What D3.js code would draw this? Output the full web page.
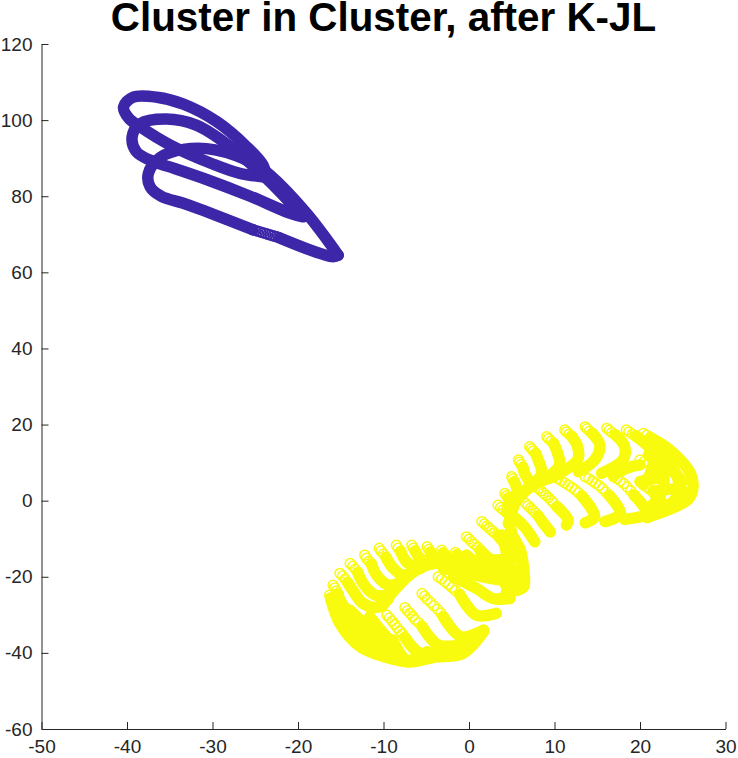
<!DOCTYPE html>
<html><head><meta charset="utf-8">
<script src="https://cdn.jsdelivr.net/npm/d3@7/dist/d3.min.js"></script>
<style>html,body{margin:0;padding:0;background:#fff}svg{display:block}</style>
</head><body><svg id="c" width="738" height="758"></svg>
<script>
const titleText = "Cluster in Cluster, after K-JL";
const xTicks = [-50,-40,-30,-20,-10,0,10,20,30];
const yTicks = [-60,-40,-20,0,20,40,60,80,100,120];

const blueLoops = [
 [[-23.7,85],[-26.8,86],[-29.9,88.4],[-35,93.5],[-38.5,98.3],[-39.8,100.5],[-40.4,103.5],[-39.3,106],[-36.5,106],[-33.4,104.2],[-29.5,99.6],[-26,93],[-24.1,88.2],[-23.7,85]],
 [[-19.4,74.6],[-21,75.6],[-25.6,80],[-30.7,84.4],[-35,87.7],[-36.9,89.1],[-38.9,91.7],[-39.4,95.6],[-38.5,99],[-35.4,100.3],[-31.9,98.7],[-28.2,93.5],[-23.7,84.7],[-19.4,74.6]],
 [[-15.3,64.5],[-19,75.5],[-23.3,85.6],[-25.1,88.5],[-29.7,92.2],[-33.4,92.3],[-36.1,90.2],[-37.5,86],[-37.3,82.5],[-36,80],[-33.5,78.2],[-31.5,76.6],[-25.3,71.2]],
 [[-22.1,69],[-15.9,64.1],[-15.3,64.5]]
];
const blueRings = [[-25.3,71.2],[-25,71],[-24.7,70.8],[-24.4,70.6],[-24.1,70.4],[-23.8,70.2],[-23.5,70],[-23.2,69.8],[-22.9,69.6],[-22.6,69.4],[-22.3,69.2]];

const yellowRings = [
 [[5,6.3],[5.1,5.7],[5.3,5]],
 [[5.8,10.7],[5.9,10.1],[6.1,9.5],[6.3,8.8]],
 [[7.1,14.2],[7.3,13.7],[7.5,13.1],[7.8,12.4]],
 [[9.1,16.8],[9.3,16.3],[9.6,15.7],[9.9,15]],
 [[11.2,18.6],[11.4,18.1],[11.7,17.5],[12,16.9]],
 [[13.6,19.4],[13.8,18.9],[14.1,18.3],[14.4,17.7]],
 [[16.1,19],[16.4,18.5],[16.7,17.9],[17.1,17.3]],
 [[18.4,18.6],[18.7,18.1],[19.1,17.5],[19.5,17]],
 [[20.4,17.7],[20.8,17.2],[21.2,16.6]],
 [[20,10.7],[20.5,10.3],[21,9.9],[21.5,9.5]],
 [[1.5,-5.5],[1.8,-6.1],[2.1,-6.7],[2.4,-7.3],[2.7,-7.9],[3,-8.5],[3.4,-9.2]],
 [[3.4,-1.2],[3.7,-1.8],[4,-2.4],[4.4,-3.1]],
 [[4.2,1.9],[4.4,1.3],[4.6,0.7]],
 [[6.6,-0.7],[6.9,-1.3],[7.2,-1.9],[7.5,-2.6],[7.8,-3.3],[8.1,-4]],
 [[8.1,3.2],[8.4,2.6],[8.7,2],[9,1.4],[9.3,0.8],[9.6,0.1],[9.9,-0.6],[10.3,-1.6]],
 [[10.4,5.8],[10.8,5.2],[11.2,4.7],[11.6,4.1],[12,3.5],[12.4,2.9],[12.8,2.1],[13.2,1.2]],
 [[13.6,6.3],[14,5.8],[14.4,5.2],[14.8,4.6],[15.2,4],[15.6,3.2],[16,2.3],[16.4,1.4]],
 [[16.9,6.3],[17.3,5.8],[17.7,5.2],[18.1,4.5],[18.5,3.6],[18.9,2.6],[19.3,1.5]],
 [[20.4,4.1],[20.8,3.5],[21.2,2.9],[21.6,2.1]],
 [[-0.3,-9.5],[0,-10.1],[0.3,-10.8],[0.6,-11.4],[1,-12.2],[1.3,-13]],
 [[-3.6,-20],[-3.2,-20.6],[-2.8,-21.3],[-2.4,-22],[-2,-22.8],[-1.6,-23.6],[-1.1,-24.6]],
 [[-5.5,-24.4],[-5.2,-25.1],[-4.9,-25.9],[-4.5,-26.7],[-4.1,-27.6],[-3.7,-28.5],[-3.3,-29.5],[-3,-30.5]],
 [[-7.5,-28.1],[-7.2,-28.9],[-6.9,-29.6],[-6.6,-30.4],[-6.3,-31.2],[-5.9,-32.1],[-5.5,-33]],
 [[-9.6,-30.1],[-9.3,-30.8],[-9,-31.6],[-8.7,-32.5],[-8.4,-33.4],[-8.1,-34.2],[-7.8,-35],[-7.5,-35.9]],
 [[-15.9,-22.2],[-15.7,-22.9],[-15.5,-23.7],[-15.3,-24.6]],
 [[-15.1,-19.1],[-14.8,-19.8],[-14.5,-20.6],[-14.2,-21.5]],
 [[-13.9,-16.5],[-13.6,-17.2],[-13.3,-18],[-13,-18.9]],
 [[-12.2,-14.3],[-12,-15.1],[-11.7,-15.9],[-11.4,-16.7]],
 [[-10.5,-12.5],[-10.3,-13.2],[-10,-14],[-9.7,-14.9]],
 [[-8.5,-11.7],[-8.3,-12.5],[-8,-13.3]],
 [[-6.7,-11.7],[-6.5,-12.5],[-6.3,-13.2]],
 [[-4.9,-12.1],[-4.7,-12.8],[-4.5,-13.5]],
 [[-3.2,-13],[-3,-13.7]],
 [[-1.6,-13.6],[-1.4,-14.2]],
 [[-16.3,-24.8],[-16.2,-25.6]]
];

const yellowLines = [
 [[5.3,5],[5.6,2.8],[5.2,-1.6],[4.6,-6]],
 [[6.3,8.8],[6.5,7.2],[7.1,4.1],[6,1.9]],
 [[7.8,12.4],[8.1,10.7],[8.5,7.2],[7.3,4.1]],
 [[9.9,15],[10.3,12.9],[10.6,9.4],[9.3,6.3],[7.3,4.1]],
 [[12,16.9],[12.7,14.2],[12.7,10.7],[10.6,7.2],[9.3,5.8]],
 [[14.4,17.7],[15.3,14.6],[14.7,10.7],[12.8,7.6]],
 [[17.1,17.3],[18.2,14.2],[18,10.7],[15.5,7.2]],
 [[19.5,17],[21,14.2],[22,10.7],[20.4,4.5]],
 [[21.2,16.6],[23.5,13.3],[25.9,7.2],[26.2,3.7],[25.7,0.5],[23.1,-2.6],[20.8,-4.4]],
 [[21.5,15.5],[23.5,10],[24.5,5],[24,0],[22,-2]],
 [[21,12],[22.7,7],[22.5,2],[21.5,-1]],
 [[21.3,8],[23.5,8],[25,5]],
 [[21.5,2.5],[24,3],[25.5,2]],
 [[16.9,6.7],[18.4,8.5],[20,9.4]],
 [[20,5],[22.7,6.3]],
 [[3.4,-9.2],[4,-10.8],[4.8,-13]],
 [[4.4,-3.1],[5.2,-4.2],[6.5,-6.9],[7.7,-10.8]],
 [[8.1,-4],[8.6,-5.6],[9.5,-8.2]],
 [[10.3,-1.6],[11.6,-5.1],[11.4,-6.4]],
 [[13.2,1.2],[14.7,-4.2],[13.6,-5.8]],
 [[16.4,1.4],[17.7,-3.4],[15.9,-5.5]],
 [[19.3,1.5],[20.8,-3.4],[18.2,-4.9]],
 [[21.6,2.1],[22.7,-1.6],[20.8,-4.4]],
 [[4.6,0.7],[4.8,-2.5],[4.8,-5.1],[5,-8.6],[6,-13],[6.4,-18.2],[6.4,-22.6],[5.6,-23.6]],
 [[3.9,-9],[4.4,-14],[4.6,-19],[4.4,-24]],
 [[4.8,-2.5],[6.7,2.8],[9.1,5.8],[10.5,7.2]],
 [[1.3,-13],[3.2,-17.4],[4.2,-21.7],[4.8,-24.8],[3.6,-25.7]],
 [[-1.8,-20],[0.9,-23.1],[2.8,-25.7],[4.8,-25.7]],
 [[-1.1,-24.6],[0.9,-30.1],[3.2,-29.6]],
 [[-3,-30.5],[-0.9,-35.8],[1.7,-34]],
 [[-5.5,-33],[-3.6,-37.9],[-0.7,-37.9]],
 [[-7.5,-35.9],[-5.7,-40.1],[-2.6,-38.8]],
 [[-8.9,-36.6],[-7.3,-41.9],[-4.9,-39.7]],
 [[-10.2,-27.9],[-8.9,-23.9],[-6.5,-18.7],[-4.2,-16.5],[0,-17.4],[3.6,-18.2],[6.4,-18.2]],
 [[-5,-16],[-1,-15.8],[3,-15.6],[6,-15.2]],
 [[-3,-17.8],[0,-19.2],[3,-20.6],[5.5,-21]],
 [[-15.3,-24.6],[-15.1,-26.1],[-13.5,-30.5],[-11.6,-32.3]],
 [[-14.2,-21.5],[-13.5,-23.9],[-12.4,-27],[-10.8,-28],[-9.4,-25.7]],
 [[-13,-18.9],[-12.4,-21.7],[-11,-24.8],[-9.4,-24.8]],
 [[-11.4,-16.7],[-10.8,-19.6],[-9.4,-22.2],[-8.3,-21.7]],
 [[-9.7,-14.9],[-9,-17.4],[-7.7,-19.6],[-6.3,-18.2]],
 [[-8,-13.3],[-7.3,-16.1],[-5.7,-17.8]],
 [[-6.3,-13.2],[-5.7,-15.2],[-4.2,-16.5]],
 [[-4.5,-13.5],[-4,-15.6],[-2.2,-16.5]],
 [[-3,-13.7],[-2.2,-16],[-1,-16.5]],
 [[-1.4,-14.2],[-0.9,-16.5]],
 [[-0.3,-14.3],[0.9,-16.5]],
 [[-16.2,-25.6],[-15.1,-32.3],[-12.7,-38.4],[-9.6,-41.2],[-6.9,-42.4],[-4.2,-41.2],[-0.7,-40.1],[1.7,-34.4]],
 [[-15.5,-25.2],[-13.9,-32.3],[-11.6,-36.6],[-8.9,-40.1]],
 [[-13.9,-28.8],[-12,-33.1],[-10,-38.4]],
 [[-11.6,-30.5],[-10,-34.9],[-8.5,-38.8]]
];

const svg = d3.select("#c");
const x = d3.scaleLinear().domain([-50,30]).range([41.5,725.5]);
const y = d3.scaleLinear().domain([-60,120]).range([729,44]);
const ink = "#262626", blue = "#3e26a8", yellow = "#f9fb0e";
const line = d3.line().x(d=>x(d[0])).y(d=>y(d[1])).curve(d3.curveCatmullRom.alpha(0.5));

svg.append("g").selectAll("path").data(blueLoops).join("path")
  .attr("d",line).attr("fill","none").attr("stroke",blue).attr("stroke-width",11.5)
  .attr("stroke-linecap","round").attr("stroke-linejoin","round");
svg.append("g").selectAll("circle").data(blueRings).join("circle")
  .attr("cx",d=>x(d[0])).attr("cy",d=>y(d[1])).attr("r",4.9)
  .attr("fill","none").attr("stroke",blue).attr("stroke-width",1.8);

svg.append("g").selectAll("path").data(yellowLines).join("path")
  .attr("d",line).attr("fill","none").attr("stroke",yellow).attr("stroke-width",11.5)
  .attr("stroke-linecap","round").attr("stroke-linejoin","round");

svg.append("g").selectAll("circle").data(yellowRings.flat()).join("circle")
  .attr("cx",d=>x(d[0])).attr("cy",d=>y(d[1])).attr("r",4.9)
  .attr("fill","none").attr("stroke",yellow).attr("stroke-width",1.5);

const gx = svg.append("g").attr("transform",`translate(0,${y(-60)})`)
  .call(d3.axisBottom(x).tickValues(xTicks).tickFormat(d=>String(d)).tickSizeInner(-7).tickSizeOuter(0).tickPadding(11));
const gy = svg.append("g").attr("transform",`translate(${x(-50)},0)`)
  .call(d3.axisLeft(y).tickValues(yTicks).tickFormat(d=>String(d)).tickSizeInner(-7).tickSizeOuter(0).tickPadding(9));
[gx,gy].forEach(g=>{
  g.selectAll("path,line").attr("stroke",ink).attr("stroke-width",1);
  g.selectAll("text").attr("fill",ink).style("font-family","'Liberation Sans',Arial,sans-serif").style("font-size","19px");
});

svg.append("text").attr("x",383.5).attr("y",30.5).attr("text-anchor","middle")
  .style("font-family","'Liberation Sans',Arial,sans-serif").style("font-weight","700").style("font-size","40.4px")
  .attr("fill","#000").text(titleText);
</script></body></html>
